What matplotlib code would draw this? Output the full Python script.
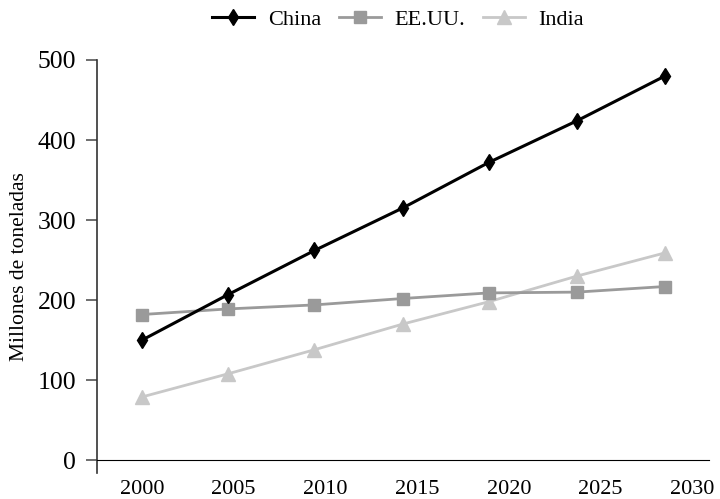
import matplotlib
matplotlib.use("Agg")
import matplotlib.pyplot as plt

plt.rcParams['font.family'] = ['Liberation Serif', 'DejaVu Serif']

# years as placed along the axis, and the three series (millones de toneladas)
years = [2000, 2004.7, 2009.4, 2014.2, 2018.9, 2023.7, 2028.5]
china = [150, 207, 262, 315, 372, 424, 480]
eeuu = [182, 189, 194, 202, 209, 210, 217]
india = [79, 108, 138, 170, 198, 230, 259]

xticks = [2000, 2005, 2010, 2015, 2020, 2025, 2030]
yticks = [0, 100, 200, 300, 400, 500]

fig = plt.figure(figsize=(7.2, 4.99), dpi=100)
ax = fig.add_axes([97 / 720, 1 - 473 / 499, 612 / 720, 413 / 499])

ax.plot(years, china, color='black', lw=2.2, marker='d', ms=8.5,
        mfc='black', mec='black', label='China', zorder=4)
ax.plot(years, eeuu, color='#9a9a9a', lw=2.0, marker='s', ms=8.5,
        mfc='#9a9a9a', mec='#9a9a9a', label='EE.UU.', zorder=3)
ax.plot(years, india, color='#c8c8c8', lw=2.0, marker='^', ms=10.5,
        mfc='#c8c8c8', mec='#c8c8c8', label='India', zorder=2)

ax.set_xlim(1997.55, 2030.9)
ax.set_ylim(-16, 500)

ax.spines['top'].set_visible(False)
ax.spines['right'].set_visible(False)
ax.spines['bottom'].set_position(('data', 0))
ax.spines['bottom'].set_color('black')
ax.spines['left'].set_color('#333333')
ax.spines['left'].set_linewidth(1.2)

ax.set_yticks(yticks)
ax.tick_params(axis='y', direction='out', length=8, width=1.2,
               color='#555555', labelsize=18.5, pad=7)
ax.set_xticks(xticks)
ax.tick_params(axis='x', length=0, labelsize=16, pad=0)
# x labels sit under the lower end of the y axis, not under the zero line
for t in ax.xaxis.get_major_ticks():
    t.label1.set_transform(ax.get_xaxis_transform())
    t.label1.set_y(-0.018)
    t.label1.set_verticalalignment('top')

ax.set_ylabel('Millones de toneladas', fontsize=15.5, labelpad=6)

ax.legend(loc='center', bbox_to_anchor=(398 / 720, 1 - 20 / 499),
          bbox_transform=fig.transFigure, ncol=3, frameon=False,
          fontsize=16, handlelength=1.9, handletextpad=0.6,
          columnspacing=0.8)

fig.savefig('out.png', dpi=100)
